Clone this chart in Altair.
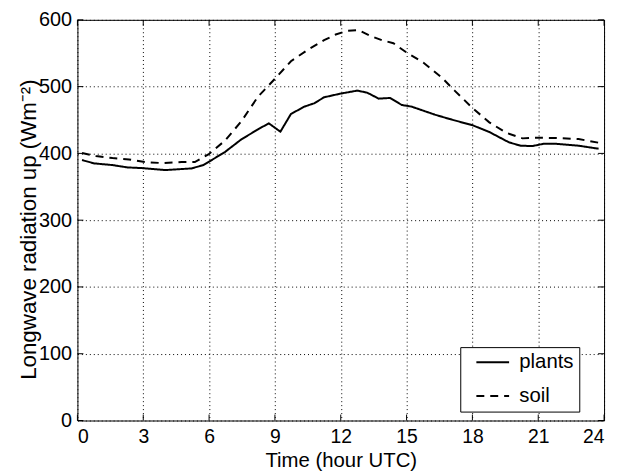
import altair as alt
import pandas as pd

# ---- data ----
plants_hours = [0.21, 0.77, 1.6, 2.28, 2.95, 4.0, 5.2, 5.74, 6.72, 7.47, 8.23, 8.72,
                9.25, 9.73, 10.34, 10.79, 11.24, 11.99, 12.75, 13.2, 13.73, 14.25,
                14.78, 15.23, 16.29, 16.96, 18.02, 18.77, 19.67, 20.2, 20.73, 21.26,
                21.78, 22.84, 23.75]
plants_values = [390, 385, 382.5, 379, 378, 375, 377.5, 382.5, 402, 421, 436, 445,
                 432.5, 459, 470, 475, 484, 489.5, 494, 491, 482, 483,
                 472.5, 470, 458, 451.5, 442, 432, 416.5, 411.5, 411, 414.5,
                 414.5, 411.5, 407]

soil_hours = [0.21, 0.84, 1.6, 2.35, 3.1, 3.85, 4.75, 5.35, 5.97, 6.72, 7.47, 8.23,
              8.98, 9.73, 10.49, 11.24, 11.77, 12.29, 12.82, 13.35, 13.88, 14.4,
              15.0, 15.76, 16.59, 17.19, 18.02, 18.77, 19.53, 20.28, 20.96, 21.78,
              22.84, 23.75]
soil_values = [400.5, 396, 393, 391, 387, 385.5, 387, 387, 398.5, 419, 448, 485,
               511, 538, 555, 569.5, 578, 583.5, 584.5, 576, 569.5, 565,
               551, 536, 514, 494, 467.5, 446.5, 431, 422.5, 423.5, 423,
               421.5, 416]

series_names = ["plants", "soil"]
x_ticks = [0, 3, 6, 9, 12, 15, 18, 21, 24]
y_ticks = [0, 100, 200, 300, 400, 500, 600]

x_title = "Time (hour UTC)"
y_title = "Longwave radiation up (Wm\u207b\u00b2)"

W, H = 531, 404
FONT = "Liberation Sans"
TICK = 6

df = pd.concat([
    pd.DataFrame({"hour": plants_hours, "value": plants_values, "series": series_names[0]}),
    pd.DataFrame({"hour": soil_hours, "value": soil_values, "series": series_names[1]}),
], ignore_index=True)

xt = pd.DataFrame({"hour": x_ticks})
yt = pd.DataFrame({"value": y_ticks})

xscale = alt.Scale(domain=[0, 24], nice=False, zero=False)
yscale = alt.Scale(domain=[0, 600], nice=False)

lines = alt.Chart(df).mark_line(color="black", strokeWidth=2).encode(
    x=alt.X("hour:Q", scale=xscale,
            axis=alt.Axis(values=x_ticks, title=x_title, labelPadding=7,
                          labelFontSize=19.5,
                          titleFontSize=20.5, titleY=46, titleBaseline="alphabetic")),
    y=alt.Y("value:Q", scale=yscale,
            axis=alt.Axis(values=y_ticks, title=y_title, labelPadding=6,
                          labelFontSize=20,
                          titleFontSize=22.5, titleX=-42, titleY=211, titleAngle=270,
                          titleAlign="center", titleBaseline="alphabetic")),
    strokeDash=alt.StrokeDash(
        "series:N",
        scale=alt.Scale(domain=series_names, range=[[1, 0], [8, 6]]),
        legend=alt.Legend(title=None, labelExpr="datum.label + '     '",
                          orient="none", legendX=386, legendY=330),
    ),
)

tick_bottom = alt.Chart(xt).mark_rule(color="black", strokeWidth=1).encode(
    x=alt.X("hour:Q", scale=xscale), y=alt.value(H), y2=alt.value(H - TICK))
tick_top = alt.Chart(xt).mark_rule(color="black", strokeWidth=1).encode(
    x=alt.X("hour:Q", scale=xscale), y=alt.value(0), y2=alt.value(TICK))
tick_left = alt.Chart(yt).mark_rule(color="black", strokeWidth=1).encode(
    y=alt.Y("value:Q", scale=yscale), x=alt.value(0), x2=alt.value(TICK))
tick_right = alt.Chart(yt).mark_rule(color="black", strokeWidth=1).encode(
    y=alt.Y("value:Q", scale=yscale), x=alt.value(W), x2=alt.value(W - TICK))

chart = alt.layer(tick_bottom, tick_top, tick_left, tick_right, lines).properties(
    width=W, height=H,
    padding={"left": 70, "top": 10, "right": 8, "bottom": 52},
    autosize=alt.AutoSizeParams(type="none"),
).configure_view(
    stroke="black", strokeWidth=1
).configure_axis(
    grid=True, gridColor="black", gridDash=[1, 3], gridWidth=1, gridOpacity=1,
    ticks=False, domain=False,
    labelFont=FONT, labelColor="black",
    titleFont=FONT, titleColor="black", titleFontWeight="normal",
).configure_legend(
    fillColor="white", strokeColor="black",
    padding=5, rowPadding=13, symbolType="M0.125,0H4.25", symbolSize=256,
    symbolStrokeWidth=2, symbolStrokeColor="black", symbolFillColor="transparent",
    labelOffset=34, labelFont=FONT, labelFontSize=20.5, labelColor="black",
)

chart.save("out.html", embed_options={"renderer": "svg", "actions": False})
